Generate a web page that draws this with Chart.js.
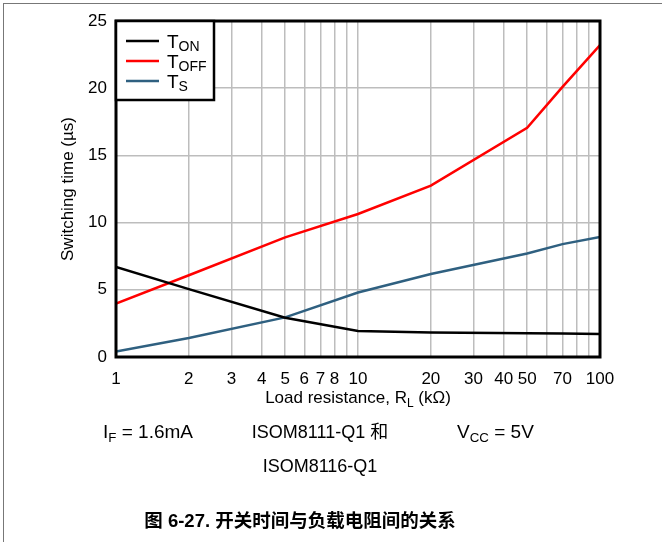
<!DOCTYPE html>
<html>
<head>
<meta charset="utf-8">
<script src="https://cdn.jsdelivr.net/npm/chart.js@4.4.1/dist/chart.umd.min.js"></script>
<style>
  html, body { margin: 0; padding: 0; background: #fff; }
  #wrap { position: relative; width: 662px; height: 542px; overflow: hidden;
          font-family: "Liberation Sans", Arial, "Noto Sans CJK SC", sans-serif; color: #000; }
  #frame { position: absolute; left: 3px; top: 3px; width: 700px; height: 600px;
           border-left: 1px solid #777; border-top: 1px solid #777; }
  canvas { position: absolute; left: 0; top: 0; }
  .note { position: absolute; white-space: nowrap; line-height: 1; }
  .note sub { font-size: 70%; vertical-align: -0.32em; line-height: 0; }
  .center { transform: translateX(-50%); }
</style>
</head>
<body>
<div id="wrap">
  <div id="frame"></div>
  <canvas id="chart" width="662" height="542"></canvas>
  <div class="note" style="left:103px;top:422px;font-size:19px">I<sub>F</sub> = 1.6mA</div>
  <div class="note center" style="left:320px;top:423px;font-size:18px">ISOM8111-Q1 和</div>
  <div class="note" style="left:457px;top:422px;font-size:19px">V<sub>CC</sub> = 5V</div>
  <div class="note center" style="left:320px;top:457px;font-size:18px">ISOM8116-Q1</div>
  <div class="note center" style="left:300px;top:512px;font-size:18.5px;font-weight:bold">图 6-27. 开关时间与负载电阻间的关系</div>
</div>
<script>
// data
const loadRes = [1, 2, 5, 10, 20, 50, 70, 100];
const tOn  = [6.7, 5.05, 2.92, 1.93, 1.82, 1.76, 1.74, 1.72];
const tOff = [3.97, 6.08, 8.9, 10.64, 12.75, 17.06, 20.1, 23.2];
const tS   = [0.4, 1.42, 2.95, 4.8, 6.18, 7.7, 8.4, 8.93];

// axes
const xGrid   = [1, 2, 3, 4, 5, 6, 7, 8, 9, 10, 20, 30, 40, 50, 60, 70, 80, 90, 100];
const xLabels = [1, 2, 3, 4, 5, 6, 7, 8, 10, 20, 30, 40, 50, 70, 100];
const yTicks  = [0, 5, 10, 15, 20, 25];

// legend names: [main, subscript]
const seriesNames = [['T', 'ON'], ['T', 'OFF'], ['T', 'S']];
const seriesColors = ['#000000', '#ff0000', '#2f6080'];

const FONT = '"Liberation Sans", Arial, sans-serif';

function toPoints(vals) {
  return loadRes.map((r, i) => ({ x: r, y: vals[i] }));
}

// draws text with a subscript part
function subText(ctx, x, y, parts, size, subSize, subDrop, align) {
  ctx.font = size + 'px ' + FONT;
  const w0 = ctx.measureText(parts[0]).width;
  ctx.font = subSize + 'px ' + FONT;
  const w1 = ctx.measureText(parts[1]).width;
  ctx.font = size + 'px ' + FONT;
  const w2 = parts[2] ? ctx.measureText(parts[2]).width : 0;
  let sx = x;
  if (align === 'center') sx = x - (w0 + w1 + w2) / 2;
  ctx.textAlign = 'left';
  ctx.textBaseline = 'alphabetic';
  ctx.fillText(parts[0], sx, y);
  ctx.font = subSize + 'px ' + FONT;
  ctx.fillText(parts[1], sx + w0, y + subDrop);
  if (parts[2]) {
    ctx.font = size + 'px ' + FONT;
    ctx.fillText(parts[2], sx + w0 + w1, y);
  }
}

const decorPlugin = {
  id: 'decor',
  afterDatasetsDraw(chart) {
    const ctx = chart.ctx;
    const a = chart.chartArea;
    ctx.save();
    // plot frame
    ctx.strokeStyle = '#000';
    ctx.lineWidth = 3;
    ctx.strokeRect(a.left, a.top, a.right - a.left, a.bottom - a.top);

    // legend box
    const lw = 98, lh = 79;
    ctx.fillStyle = '#fff';
    ctx.fillRect(a.left, a.top, lw, lh);
    ctx.lineWidth = 2.5;
    ctx.strokeRect(a.left, a.top, lw, lh);
    chart.data.datasets.forEach((ds, i) => {
      const ly = a.top + 20 + i * 20;
      ctx.strokeStyle = ds.borderColor;
      ctx.lineWidth = 2.5;
      ctx.beginPath();
      ctx.moveTo(a.left + 10, ly);
      ctx.lineTo(a.left + 43, ly);
      ctx.stroke();
      ctx.fillStyle = '#000';
      subText(ctx, a.left + 51, ly + 7, seriesNames[i], 19, 14, 2.5, 'left');
    });
    ctx.restore();
  },
  afterDraw(chart) {
    const ctx = chart.ctx;
    const a = chart.chartArea;
    ctx.save();
    ctx.fillStyle = '#000';
    // x title
    subText(ctx, (a.left + a.right) / 2, 403, ['Load resistance, R', 'L', ' (k\u03A9)'], 17, 12, 3.5, 'center');
    // y title
    ctx.translate(73, (a.top + a.bottom) / 2);
    ctx.rotate(-Math.PI / 2);
    ctx.font = '17px ' + FONT;
    ctx.textAlign = 'center';
    ctx.textBaseline = 'alphabetic';
    ctx.fillText('Switching time (\u00B5s)', 0, 0);
    ctx.restore();
  }
};

const chart = new Chart(document.getElementById('chart'), {
  type: 'line',
  data: {
    datasets: [
      { label: 'TON', data: toPoints(tOn), borderColor: seriesColors[0] },
      { label: 'TOFF', data: toPoints(tOff), borderColor: seriesColors[1] },
      { label: 'TS', data: toPoints(tS), borderColor: seriesColors[2] }
    ].map(d => Object.assign(d, { borderWidth: 2.5, pointRadius: 0, tension: 0, fill: false }))
  },
  options: {
    responsive: false,
    animation: false,
    devicePixelRatio: 1,
    layout: { padding: { top: 21, right: 62, left: 0, bottom: 0 } },
    plugins: { legend: { display: false }, tooltip: { enabled: false } },
    scales: {
      x: {
        type: 'logarithmic',
        min: 1,
        max: 100,
        afterBuildTicks: s => { s.ticks = xGrid.map(v => ({ value: v })); },
        afterFit: s => { s.height = 185; },
        grid: { color: '#bdbdbd', lineWidth: 1.5, drawTicks: false },
        border: { display: false },
        ticks: {
          autoSkip: false,
          maxRotation: 0,
          padding: 12,
          color: '#000',
          font: { family: FONT, size: 17 },
          callback: v => xLabels.includes(v) ? String(v) : ''
        }
      },
      y: {
        min: 0,
        max: 25,
        afterBuildTicks: s => { s.ticks = yTicks.map(v => ({ value: v })); },
        afterFit: s => { s.width = 116; },
        grid: { color: '#bdbdbd', lineWidth: 1.5, drawTicks: false },
        border: { display: false },
        ticks: {
          padding: 9,
          color: '#000',
          font: { family: FONT, size: 17 }
        }
      }
    }
  },
  plugins: [decorPlugin]
});
</script>
</body>
</html>
